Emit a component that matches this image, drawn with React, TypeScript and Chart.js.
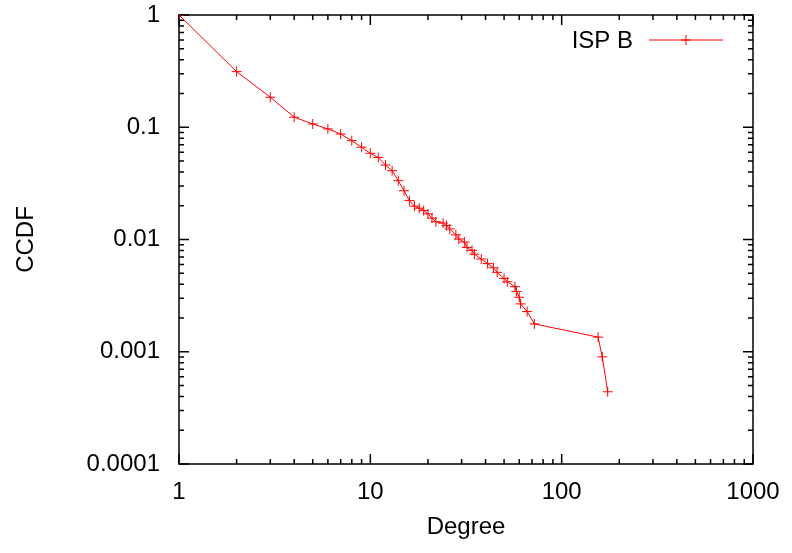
import React, { useEffect, useRef } from "react";
import { Chart, registerables } from "chart.js";

Chart.register(...registerables);

// Degree distribution (complementary CDF) for ISP B
const seriesLabel = "ISP B";
const degrees = [
  1, 2, 3, 4, 5, 6, 7, 8, 9, 10, 11, 12, 13, 14, 15, 16, 17, 18, 19, 20,
  21, 22, 24, 25, 26, 28, 29, 31, 32, 34, 35, 38, 41, 44, 46, 50, 52, 57,
  58, 60, 61, 66, 72, 155, 163, 174,
];
const ccdf = [
  1, 0.313, 0.185, 0.123, 0.107, 0.0966, 0.087, 0.076, 0.0664, 0.0586,
  0.0538, 0.0461, 0.041, 0.0334, 0.0272, 0.0222, 0.0198, 0.019, 0.0181,
  0.0169, 0.0155, 0.0144, 0.014, 0.0133, 0.0124, 0.011, 0.0101, 0.0095,
  0.0085, 0.008, 0.0074, 0.0067, 0.0061, 0.0056, 0.0051, 0.0045, 0.0042,
  0.0038, 0.00344, 0.00306, 0.00267, 0.00228, 0.00177, 0.00135, 0.0009,
  0.00044,
];

const xTickValues = [1, 10, 100, 1000];
const xTickLabels = ["1", "10", "100", "1000"];
const yTickValues = [0.0001, 0.001, 0.01, 0.1, 1];
const yTickLabels = ["0.0001", "0.001", "0.01", "0.1", "1"];

const xTitle = "Degree";
const yTitle = "CCDF";

const RED = "#ff0000";
const FONT = "'Liberation Sans', Arial, Helvetica, sans-serif";

// Draws the boxed frame with inward major/minor ticks on all four sides
const framePlugin = {
  id: "frame",
  beforeDatasetsDraw(chart: any) {
    const { ctx, chartArea: a, scales } = chart;
    const xs = scales.x;
    const ys = scales.y;
    ctx.save();
    ctx.strokeStyle = "#000";
    ctx.lineWidth = 1.5;
    ctx.beginPath();
    ctx.rect(a.left, a.top, a.right - a.left, a.bottom - a.top);
    ctx.stroke();

    const major = 10;
    const minor = 5;
    ctx.beginPath();
    for (let d = xs.min; d < xs.max * 1.0001; d *= 10) {
      for (let m = 1; m <= 9; m++) {
        const v = d * m;
        if (v > xs.max * 1.0001) break;
        const len = m === 1 ? major : minor;
        const px = xs.getPixelForValue(v);
        ctx.moveTo(px, a.bottom);
        ctx.lineTo(px, a.bottom - len);
        ctx.moveTo(px, a.top);
        ctx.lineTo(px, a.top + len);
      }
    }
    for (let d = ys.min; d < ys.max * 1.0001; d *= 10) {
      for (let m = 1; m <= 9; m++) {
        const v = d * m;
        if (v > ys.max * 1.0001) break;
        const len = m === 1 ? major : minor;
        const py = ys.getPixelForValue(v);
        ctx.moveTo(a.left, py);
        ctx.lineTo(a.left + len, py);
        ctx.moveTo(a.right, py);
        ctx.lineTo(a.right - len, py);
      }
    }
    ctx.stroke();
    ctx.restore();
  },
};

// Key inside the plot, top right: label, line sample and cross marker
const keyPlugin = {
  id: "key",
  afterDatasetsDraw(chart: any) {
    const { ctx } = chart;
    const ds = chart.data.datasets[0];
    const textRight = 633;
    const yMid = 40;
    const x0 = 649;
    const x1 = 723;
    ctx.save();
    ctx.fillStyle = "#000";
    ctx.font = `24px ${FONT}`;
    ctx.textAlign = "right";
    ctx.textBaseline = "middle";
    ctx.fillText(ds.label, textRight, yMid + 1);
    ctx.strokeStyle = RED;
    ctx.lineWidth = 1;
    ctx.beginPath();
    ctx.moveTo(x0, yMid);
    ctx.lineTo(x1, yMid);
    const cx = (x0 + x1) / 2;
    ctx.moveTo(cx - 5, yMid);
    ctx.lineTo(cx + 5, yMid);
    ctx.moveTo(cx, yMid - 5);
    ctx.lineTo(cx, yMid + 5);
    ctx.stroke();
    ctx.restore();
  },
};

export default function App() {
  const canvasRef = useRef<HTMLCanvasElement | null>(null);

  useEffect(() => {
    if (!canvasRef.current) return;
    Chart.defaults.font.family = FONT;
    Chart.defaults.color = "#000";

    const chart = new Chart(canvasRef.current, {
      type: "line",
      data: {
        datasets: [
          {
            label: seriesLabel,
            data: degrees.map((d, i) => ({ x: d, y: ccdf[i] })),
            borderColor: RED,
            backgroundColor: RED,
            borderWidth: 1,
            pointStyle: "cross",
            pointRadius: 5,
            pointBorderWidth: 1,
            pointBorderColor: RED,
            tension: 0,
            fill: false,
          },
        ],
      },
      options: {
        animation: false,
        responsive: false,
        devicePixelRatio: 1,
        layout: { padding: { top: 15, right: 39, left: 0, bottom: 0 } },
        plugins: {
          legend: { display: false },
          tooltip: { enabled: false },
        },
        scales: {
          x: {
            type: "logarithmic",
            min: 1,
            max: 1000,
            grid: { display: false, drawTicks: false },
            border: { display: false },
            afterBuildTicks: (s: any) => {
              s.ticks = xTickValues.map((v) => ({ value: v }));
            },
            afterFit: (s: any) => {
              s.height = 89;
              s.paddingLeft = 0;
              s.paddingRight = 0;
            },
            ticks: {
              font: { size: 24 },
              padding: 14,
              maxRotation: 0,
              autoSkip: false,
              callback: (v: any) => xTickLabels[xTickValues.indexOf(Number(v))] ?? "",
            },
            title: {
              display: true,
              text: xTitle,
              font: { size: 24 },
              padding: 11,
            },
          },
          y: {
            type: "logarithmic",
            min: 0.0001,
            max: 1,
            grid: { display: false, drawTicks: false },
            border: { display: false },
            afterBuildTicks: (s: any) => {
              s.ticks = yTickValues.map((v) => ({ value: v }));
            },
            afterFit: (s: any) => {
              s.width = 179;
              s.paddingTop = 0;
              s.paddingBottom = 0;
            },
            ticks: {
              font: { size: 24 },
              padding: 19,
              autoSkip: false,
              callback: (v: any) => {
                const i = yTickValues.findIndex((t) => Math.abs(t - Number(v)) / t < 1e-6);
                return i >= 0 ? yTickLabels[i] : "";
              },
            },
            title: {
              display: true,
              text: yTitle,
              font: { size: 24 },
              padding: 12,
            },
          },
        },
      },
      plugins: [framePlugin, keyPlugin],
    });

    return () => chart.destroy();
  }, []);

  return (
    <div style={{ position: "absolute", left: 0, top: 0, width: 792, height: 553, background: "#fff" }}>
      <canvas ref={canvasRef} width={792} height={553} style={{ display: "block" }} />
    </div>
  );
}
